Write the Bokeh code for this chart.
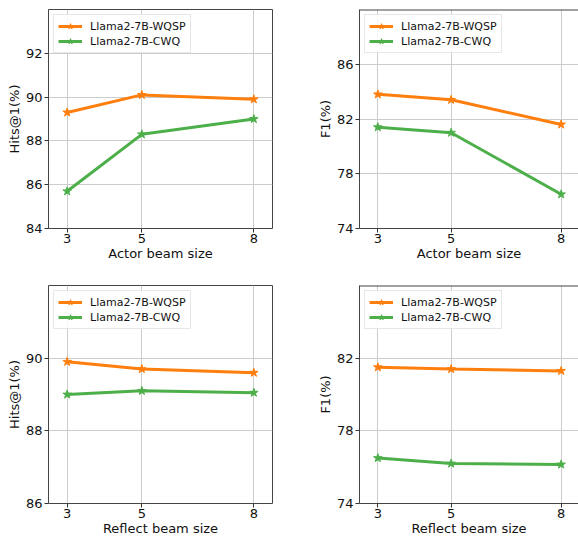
from bokeh.plotting import figure
from bokeh.layouts import gridplot
from bokeh.models import FixedTicker, Range1d, Span
from bokeh.embed import file_html
from bokeh.resources import INLINE

beam_sizes = [3, 5, 8]

actor_hits_wqsp = [89.3, 90.1, 89.9]
actor_hits_cwq = [85.7, 88.3, 89.0]
actor_f1_wqsp = [83.8, 83.4, 81.6]
actor_f1_cwq = [81.4, 81.0, 76.5]

reflect_hits_wqsp = [89.9, 89.7, 89.6]
reflect_hits_cwq = [89.0, 89.1, 89.05]
reflect_f1_wqsp = [81.5, 81.4, 81.3]
reflect_f1_cwq = [76.5, 76.2, 76.15]

series_names = ["Llama2-7B-WQSP", "Llama2-7B-CWQ"]
colors = ["#ff7f0e", "#4daf4a"]

FONT = "DejaVu Sans"
FULL_W = 224  # full frame width of a panel in px


def make_panel(wqsp, cwq, ylab, xlab, yr, yticks, border_top, border_bottom,
               border_left, border_right, frame_w, frame_h, clipped):
    x_end = 2.5 + 6.0 * frame_w / FULL_W
    p = figure(
        width=border_left + frame_w + border_right,
        height=border_top + frame_h + border_bottom,
        output_backend="svg",
        toolbar_location=None,
        x_range=Range1d(2.5, x_end),
        y_range=Range1d(*yr),
        min_border_left=border_left,
        min_border_right=border_right,
        min_border_top=border_top,
        min_border_bottom=border_bottom,
    )
    for vals, name, c in zip([wqsp, cwq], series_names, colors):
        p.line(beam_sizes, vals, line_color=c, line_width=3, legend_label=name)
        p.scatter(beam_sizes, vals, marker="star", size=9, fill_color=c, line_color=c, legend_label=name)

    p.xaxis.ticker = FixedTicker(ticks=beam_sizes)
    p.yaxis.ticker = FixedTicker(ticks=yticks)
    for ax in (p.xaxis[0], p.yaxis[0]):
        ax.major_label_text_font = FONT
        ax.major_label_text_font_size = "13px"
        ax.major_label_text_color = "#111111"
        ax.axis_label_text_font = FONT
        ax.axis_label_text_font_size = "13px"
        ax.axis_label_text_font_style = "normal"
        ax.axis_label_text_color = "#111111"
        ax.minor_tick_line_color = None
        ax.major_tick_in = 0
        ax.major_tick_out = 4
        ax.major_tick_line_color = "#333333"
        ax.major_label_standoff = 2
        ax.axis_label_standoff = 1
        if clipped:
            ax.axis_line_color = "#444444"
        else:
            ax.axis_line_color = None
    p.xaxis.major_label_standoff = 1
    p.xaxis.axis_label_standoff = 0
    p.xaxis.axis_label = xlab
    p.yaxis.axis_label = ylab

    p.xgrid.ticker = FixedTicker(ticks=beam_sizes)
    p.ygrid.ticker = FixedTicker(ticks=yticks)
    p.grid.grid_line_color = "#cccccc"
    p.grid.grid_line_width = 1

    if clipped:
        p.outline_line_color = None
        p.add_layout(Span(location=yr[1], dimension="width", line_color="#444444", line_width=2))
    else:
        p.outline_line_color = "#444444"
        p.outline_line_width = 1

    lg = p.legend[0]
    lg.location = "top_left"
    lg.margin = 5
    lg.padding = 4
    lg.spacing = 1
    lg.glyph_width = 24
    lg.glyph_height = 14
    lg.label_standoff = 8
    lg.label_text_font = FONT
    lg.label_text_font_size = "11px"
    lg.label_text_color = "#111111"
    lg.border_line_color = "#d0d0d0"
    lg.border_line_width = 1
    lg.background_fill_alpha = 0.85
    return p


# page is laid out from the window's top-left corner
p1 = make_panel(actor_hits_wqsp, actor_hits_cwq, "Hits@1(%)", "Actor beam size",
                (84, 94), [84, 86, 88, 90, 92], 9, 52, 48, 42, 224, 219, False)
p2 = make_panel(actor_f1_wqsp, actor_f1_cwq, "F1(%)", "Actor beam size",
                (74, 90), [74, 78, 82, 86], 9, 52, 41, 0, 223, 219, True)
p3 = make_panel(reflect_hits_wqsp, reflect_hits_cwq, "Hits@1(%)", "Reflect beam size",
                (86, 92), [86, 88, 90], 5, 35, 48, 42, 224, 218, False)
p4 = make_panel(reflect_f1_wqsp, reflect_f1_cwq, "F1(%)", "Reflect beam size",
                (74, 86), [74, 78, 82], 5, 35, 41, 0, 223, 218, True)

p = gridplot([[p1, p2], [p3, p4]], toolbar_location=None)

open("out.html", "w").write(file_html(p, INLINE))
